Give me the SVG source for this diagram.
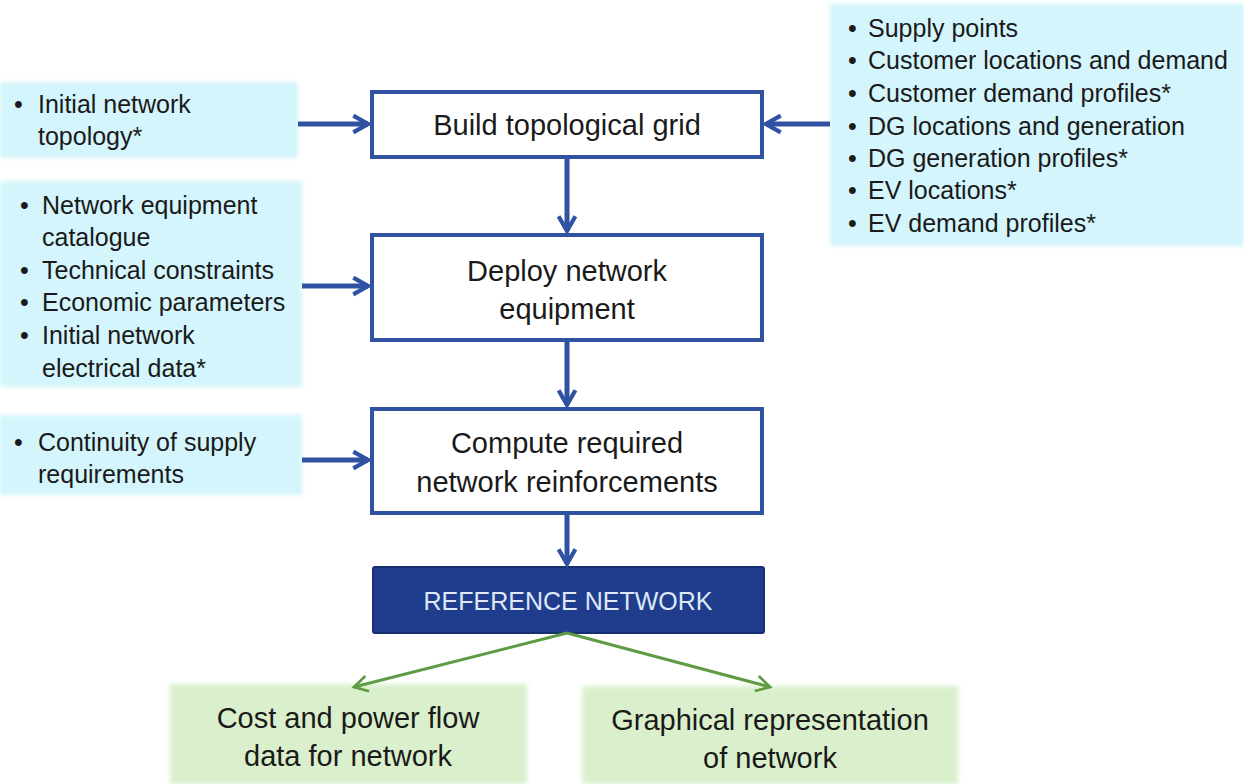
<svg xmlns="http://www.w3.org/2000/svg" width="1244" height="784" viewBox="0 0 1244 784">
<defs>
<marker id="ab" viewBox="0 0 10 10" refX="8" refY="5" markerWidth="4.2" markerHeight="4.2" orient="auto" markerUnits="strokeWidth">
<path d="M1,1 L8,5 L1,9" fill="none" stroke="#2f52a3" stroke-width="2"/>
</marker>
<marker id="ag" viewBox="0 0 10 10" refX="8" refY="5" markerWidth="6.5" markerHeight="6.5" orient="auto" markerUnits="strokeWidth">
<path d="M1,1 L8,5 L1,9" fill="none" stroke="#5f9a45" stroke-width="1.4"/>
</marker>
<filter id="soft" x="-5%" y="-5%" width="110%" height="110%"><feGaussianBlur stdDeviation="2"/></filter>
</defs>
<style>
.in{fill:#d3f5fb;filter:url(#soft)}
.gr{fill:#daf0cc;filter:url(#soft)}
.box{fill:#fff;stroke:#2f52a3;stroke-width:4}
.t{font-family:"Liberation Sans",Arial,sans-serif;fill:#1a1a1a}
.l{font-size:25px}
.m{font-size:29px;text-anchor:middle}
.g{font-size:29px;text-anchor:middle}
.cb{stroke:#2f52a3;stroke-width:5;fill:none;marker-end:url(#ab)}
.cg{stroke:#5f9a45;stroke-width:3;fill:none;marker-end:url(#ag)}
</style>
<rect width="1244" height="784" fill="#fff"/>
<g id="in-topology">
<rect class="in" x="0" y="82" width="298" height="76"/>
<text class="t l" x="14" y="113">•</text>
<text class="t l" x="38" y="113">Initial network</text>
<text class="t l" x="38" y="145">topology*</text>
</g>
<g id="in-equipment">
<rect class="in" x="0" y="181" width="302" height="206"/>
<text class="t l" x="20" y="214">•</text><text class="t l" x="42" y="214">Network equipment</text>
<text class="t l" x="42" y="246">catalogue</text>
<text class="t l" x="20" y="279">•</text><text class="t l" x="42" y="279">Technical constraints</text>
<text class="t l" x="20" y="311">•</text><text class="t l" x="42" y="311">Economic parameters</text>
<text class="t l" x="20" y="344">•</text><text class="t l" x="42" y="344">Initial network</text>
<text class="t l" x="42" y="377">electrical data*</text>
</g>
<g id="in-continuity">
<rect class="in" x="0" y="415" width="302" height="80"/>
<text class="t l" x="14" y="451">•</text><text class="t l" x="38" y="451">Continuity of supply</text>
<text class="t l" x="38" y="483">requirements</text>
</g>
<g id="in-supply">
<rect class="in" x="830" y="4" width="414" height="242"/>
<text class="t l" x="848" y="37">•</text><text class="t l" x="868" y="37">Supply points</text>
<text class="t l" x="848" y="69">•</text><text class="t l" x="868" y="69">Customer locations and demand</text>
<text class="t l" x="848" y="102">•</text><text class="t l" x="868" y="102">Customer demand profiles*</text>
<text class="t l" x="848" y="135">•</text><text class="t l" x="868" y="135">DG locations and generation</text>
<text class="t l" x="848" y="167">•</text><text class="t l" x="868" y="167">DG generation profiles*</text>
<text class="t l" x="848" y="199">•</text><text class="t l" x="868" y="199">EV locations*</text>
<text class="t l" x="848" y="232">•</text><text class="t l" x="868" y="232">EV demand profiles*</text>
</g>
<g id="build">
<rect class="box" x="372" y="92" width="390" height="65"/>
<text class="t m" x="567" y="135">Build topological grid</text>
</g>
<g id="deploy">
<rect class="box" x="372" y="235" width="390" height="105"/>
<text class="t m" x="567" y="281">Deploy network</text>
<text class="t m" x="567" y="319">equipment</text>
</g>
<g id="compute">
<rect class="box" x="372" y="409" width="390" height="104"/>
<text class="t m" x="567" y="453">Compute required</text>
<text class="t m" x="567" y="492">network reinforcements</text>
</g>
<g id="reference">
<rect x="373" y="567" width="391" height="66" rx="2" fill="#1f3d8c" stroke="#16306f" stroke-width="2"/>
<text class="t" x="568" y="610" font-size="25" text-anchor="middle" style="fill:#dfe8f7">REFERENCE NETWORK</text>
</g>
<g id="cost">
<rect class="gr" x="170" y="684" width="357" height="100"/>
<text class="t g" x="348" y="728">Cost and power flow</text>
<text class="t g" x="348" y="766">data for network</text>
</g>
<g id="graphical">
<rect class="gr" x="582" y="686" width="376" height="98"/>
<text class="t g" x="770" y="730">Graphical representation</text>
<text class="t g" x="770" y="768">of network</text>
</g>
<g id="connectors">
<line class="cb" x1="298" y1="124" x2="368" y2="124"/>
<line class="cb" x1="830" y1="124" x2="766" y2="124"/>
<line class="cb" x1="567" y1="157" x2="567" y2="231"/>
<line class="cb" x1="302" y1="286" x2="368" y2="286"/>
<line class="cb" x1="567" y1="340" x2="567" y2="405"/>
<line class="cb" x1="302" y1="460" x2="368" y2="460"/>
<line class="cb" x1="567" y1="513" x2="567" y2="564"/>
<line class="cg" x1="567" y1="633" x2="354" y2="687"/>
<line class="cg" x1="567" y1="633" x2="770" y2="687"/>
</g>
</svg>
